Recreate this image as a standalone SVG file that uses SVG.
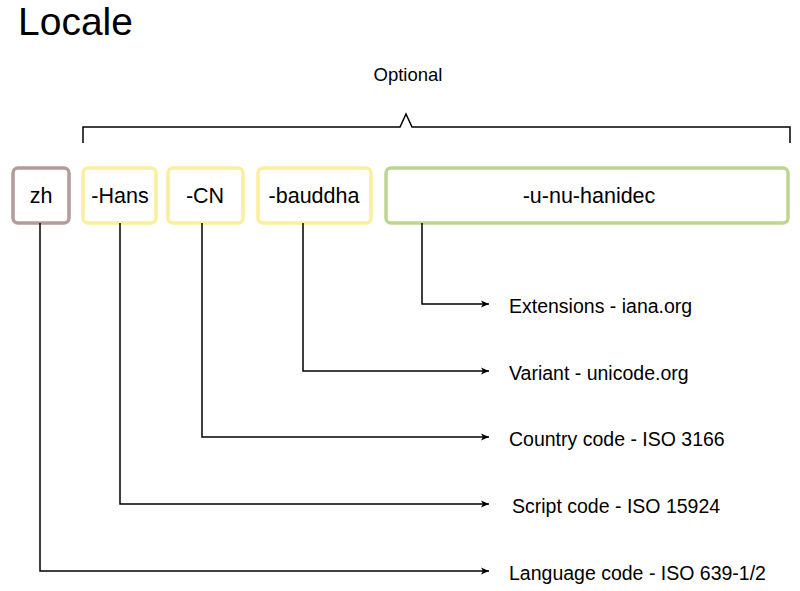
<svg xmlns="http://www.w3.org/2000/svg" width="800" height="591" viewBox="0 0 800 591">
<defs>
<marker id="arr" markerWidth="10" markerHeight="10" refX="9" refY="5" orient="auto" markerUnits="userSpaceOnUse">
<path d="M1,1.5 L9,5 L1,8.5 L3,5 Z" fill="#000"/>
</marker>
</defs>
<style>
text{font-family:"Liberation Sans",Arial,sans-serif;fill:#000}
.box{fill:#fff;stroke-width:3.5}
.tag{font-size:21.5px;text-anchor:middle}
.lbl{font-size:19.5px}
.conn{fill:none;stroke:#000;stroke-width:1.5;marker-end:url(#arr)}
</style>
<rect width="800" height="591" fill="#fff"/>
<text x="18" y="35" style="font-size:39px">Locale</text>
<text x="408" y="81" style="font-size:18.5px" text-anchor="middle">Optional</text>
<path d="M83,143 V127 H400 L406,114 L412,127 H790 V143" fill="none" stroke="#000" stroke-width="1.5"/>
<g id="n-zh"><rect class="box" x="13" y="168" width="56" height="55" rx="5" stroke="#b39c99"/><text class="tag" x="41" y="203">zh</text></g>
<g id="n-hans"><rect class="box" x="83" y="168" width="73" height="55" rx="5" stroke="#fbee9c"/><text class="tag" x="120" y="203">-Hans</text></g>
<g id="n-cn"><rect class="box" x="168" y="168" width="75" height="55" rx="5" stroke="#fbee9c"/><text class="tag" x="205" y="203">-CN</text></g>
<g id="n-bauddha"><rect class="box" x="258" y="168" width="113" height="55" rx="5" stroke="#fbee9c"/><text class="tag" x="314" y="203">-bauddha</text></g>
<g id="n-ext"><rect class="box" x="386" y="168" width="402" height="55" rx="5" stroke="#bdd590"/><text class="tag" x="589" y="203">-u-nu-hanidec</text></g>
<g id="connectors">
<path class="conn" d="M422,223 V304 H489"/>
<path class="conn" d="M303,223 V371 H489"/>
<path class="conn" d="M202,223 V437 H489"/>
<path class="conn" d="M120,223 V504 H489"/>
<path class="conn" d="M40,223 V571 H489"/>
</g>
<g id="labels">
<text class="lbl" x="509" y="313">Extensions - iana.org</text>
<text class="lbl" x="509" y="380">Variant - unicode.org</text>
<text class="lbl" x="509" y="446">Country code - ISO 3166</text>
<text class="lbl" x="512" y="513">Script code - ISO 15924</text>
<text class="lbl" x="509" y="580">Language code - ISO 639-1/2</text>
</g>
</svg>
